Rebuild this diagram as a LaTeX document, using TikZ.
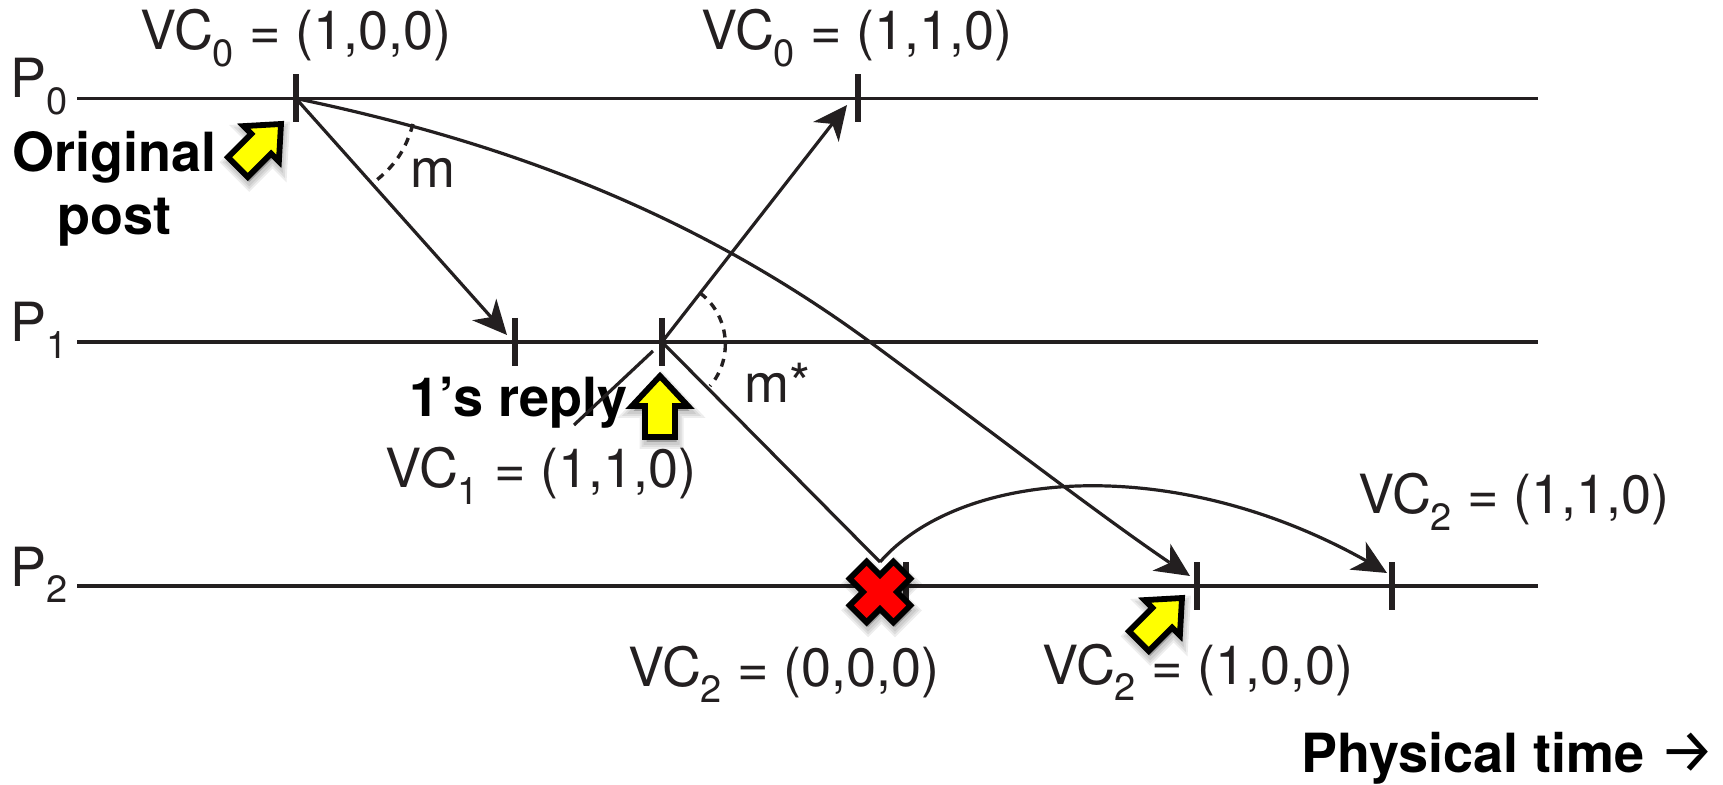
\documentclass[tikz,border=0pt]{standalone}
\usepackage{fontspec}
\setmainfont{TeX Gyre Heros}
\newfontfamily\arrowfont{Fira Sans}
\usetikzlibrary{arrows.meta,bending}
\definecolor{ink}{HTML}{231F20}
\definecolor{markyellow}{HTML}{FFFF00}
\definecolor{markred}{HTML}{FF0000}
\newcommand{\subn}[1]{\raisebox{-.31em}{\fontsize{19}{19}\selectfont #1}}
\newcommand{\vclabel}[2]{VC\subn{#1} = (#2)}
\newcommand{\arrowshape}{(0,0) -- (25,28) -- (14,28) -- (14,61) -- (-14,61) -- (-14,28) -- (-25,28) -- cycle}
\newcommand{\uparrowshape}{(0,-2) -- (28,28) -- (15,28) -- (15,59) -- (-15,59) -- (-15,28) -- (-28,28) -- cycle}
\newcommand{\crossshape}{(-12,-31) -- (12,-31) -- (12,-12) -- (31,-12) -- (31,12) -- (12,12) -- (12,31) -- (-12,31) -- (-12,12) -- (-31,12) -- (-31,-12) -- (-12,-12) -- cycle}
\newcommand{\marker}[5]{% x y rotation shape fill
  \begin{scope}[shift={(#1+1.5,#2+5)},rotate=#3]
    \draw[shadowstroke,line width=7pt] #4;
    \draw[shadowstroke,line width=5pt] #4;
    \draw[shadowstroke,line width=3pt] #4;
  \end{scope}
  \begin{scope}[shift={(#1,#2)},rotate=#3]
    \draw[markerline,fill=#5] #4;
  \end{scope}}
\tikzset{
  x=0.5pt,y=-0.5pt,
  timeline/.style={draw=ink,line width=1.9pt},
  ticks/.style={draw=ink,line width=2.9pt},
  msg/.style={draw=ink,line width=1.6pt},
  tipped/.style={-{Stealth[length=17pt,width=16pt,inset=5pt]}},
  anglemark/.style={draw=ink,line width=1.7pt,dash pattern=on 4pt off 3.4pt},
  shadowstroke/.style={draw=black,fill=black,opacity=.07,miter limit=10},
  markerline/.style={draw=black,line width=2.9pt,miter limit=10},
  lab/.style={anchor=base west,inner sep=0pt,text=ink,font=\fontsize{27}{27}\selectfont},
  boldlab/.style={anchor=base west,inner sep=0pt,text=black,font=\fontsize{27}{27}\selectfont\bfseries},
  proclab/.style={lab}
}
\begin{document}
\begin{tikzpicture}
\useasboundingbox (0,0) rectangle (1723,785);
\fill[white] (0,0) rectangle (1723,785);
% coordinates
\coordinate (a0) at (77,98.5);   \coordinate (b0) at (1538,98.5);
\coordinate (a1) at (77,342);    \coordinate (b1) at (1538,342);
\coordinate (a2) at (77,586);    \coordinate (b2) at (1538,586);
\coordinate (e1) at (296,98.5);
\coordinate (e2) at (858,98.5);
\coordinate (e3) at (515,342);
\coordinate (e4) at (662,342);
\coordinate (e5) at (906,586);
\coordinate (e6) at (1197,586);
\coordinate (e7) at (1392,586);
\coordinate (t3) at (507,335);
\coordinate (t2) at (847,105);
\coordinate (t6) at (1190,576);
\coordinate (t7) at (1387,573);
\coordinate (lost) at (880,562);
\coordinate (tailA) at (653,351);
\coordinate (tailB) at (574,425);
\coordinate (m1) at (413,124);
\coordinate (m2) at (373,183);
\coordinate (s1) at (700,293);
\coordinate (s2) at (710,386);
\coordinate (mid) at (870,342);
% text under the lines
\node[boldlab] (orig) at (12,172) {Original};
\node[boldlab] (post) at (57,235) {post};
\node[boldlab] (reply) at (409,417) {1’s reply};
% timelines
\draw[timeline] (a0) -- (b0);
\draw[timeline] (a1) -- (b1);
\draw[timeline] (a2) -- (b2);
% ticks
\foreach \e in {e1,e2,e3,e4,e5,e6,e7}
  \draw[ticks] ([yshift=12pt]\e) -- ([yshift=-12pt]\e);
% messages
\draw[msg,tipped] (e1) -- (t3);
\draw[msg,tipped] (e1) .. controls (500,141) and (690,210) .. (mid) .. controls (975,419) and (1125,535) .. (t6);
\draw[msg,tipped] (e4) -- (t2);
\draw[msg] (tailA) -- (tailB);
\draw[msg] (e4) -- (lost);
\draw[msg,tipped] (lost) .. controls (965,465) and (1190,452) .. (t7);
% angle marks
\draw[anglemark] (m1) to[bend left=18] (m2);
\draw[anglemark] (s1) to[bend left=47] (s2);
% markers
\marker{281}{124}{-45}{\arrowshape}{markyellow}
\marker{660}{378}{0}{\uparrowshape}{markyellow}
\marker{1182}{598}{-45}{\arrowshape}{markyellow}
\marker{880}{592}{45}{\crossshape}{markred}
% labels
\node[proclab] (p0) at (10,98) {P\subn{0}};
\node[proclab] (p1) at (10,342) {P\subn{1}};
\node[proclab] (p2) at (10,586) {P\subn{2}};
\node[lab] (vc1) at (140,50) {\vclabel{0}{1,0,0}};
\node[lab] (vc2) at (701,50) {\vclabel{0}{1,1,0}};
\node[lab] (vc3) at (385,488) {\vclabel{1}{1,1,0}};
\node[lab] (vc4) at (628,686) {\vclabel{2}{0,0,0}};
\node[lab] (vc5) at (1042,684) {\vclabel{2}{1,0,0}};
\node[lab] (vc6) at (1358,514) {\vclabel{2}{1,1,0}};
\node[lab] (mlab) at (410,188) {m};
\node[lab] (mstar) at (744,403) {m*};
\node[boldlab] (phys) at (1301,772) {Physical time {\arrowfont\mdseries\fontsize{31}{31}\selectfont →}};
\end{tikzpicture}
\end{document}
